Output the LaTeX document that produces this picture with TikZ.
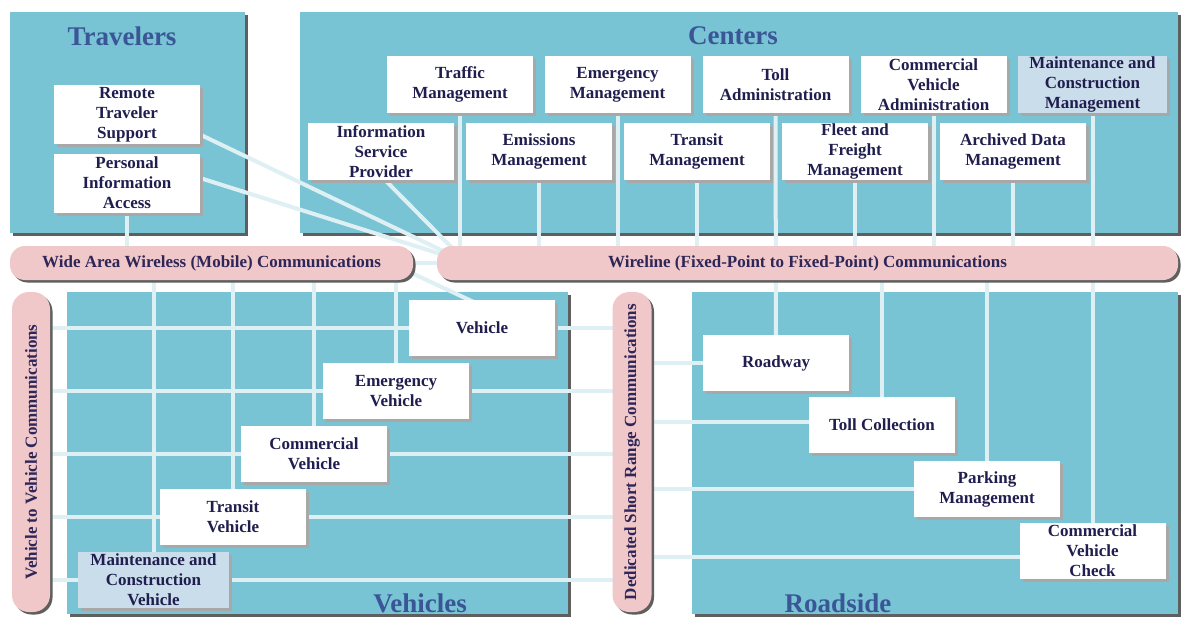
\documentclass[tikz,border=0pt]{standalone}
\usepackage{fontspec}
\setmainfont{Liberation Serif}
\usetikzlibrary{shadows}
\definecolor{panelc}{RGB}{120,196,212}
\definecolor{pillc}{RGB}{241,200,201}
\definecolor{lightbox}{RGB}{202,221,235}
\definecolor{linkc}{RGB}{222,240,243}
\definecolor{ttlc}{RGB}{58,86,150}
\definecolor{txtc}{RGB}{32,30,78}
\definecolor{pilltxt}{RGB}{46,38,88}
\definecolor{psh}{RGB}{95,95,95}
\definecolor{bsh}{RGB}{168,168,168}
\pgfdeclarelayer{bg}
\pgfdeclarelayer{mid}
\pgfsetlayers{bg,mid,main}
\newcommand\boxfont{\fontsize{17}{20}\selectfont\bfseries}
\newcommand\ttlfont{\fontsize{27}{30}\selectfont\bfseries}
\begin{document}
\begin{tikzpicture}[x=1pt,y=-1pt,
  panelbox/.style={fill=panelc,inner sep=0pt,outer sep=0pt,
    drop shadow={shadow xshift=3pt,shadow yshift=-3pt,fill=psh,opacity=1}},
  pillbox/.style={fill=pillc,inner sep=0pt,outer sep=0pt,rounded corners=15pt,
    text=pilltxt,font=\boxfont,
    drop shadow={shadow xshift=2.5pt,shadow yshift=-2.5pt,fill=psh,opacity=1}},
  wbox/.style={fill=white,inner sep=0pt,outer sep=0pt,minimum width=146pt,
    minimum height=57pt,align=center,text=txtc,font=\boxfont,
    drop shadow={shadow xshift=3pt,shadow yshift=-3pt,fill=bsh,opacity=1}},
  lbox/.style={wbox,fill=lightbox},
  ttl/.style={text=ttlc,font=\ttlfont,inner sep=0pt},
  link/.style={draw=linkc,line width=4pt}]
\useasboundingbox (0,0) rectangle (1184,618);

% panels
\begin{pgfonlayer}{bg}
\fill[white] (0,0) rectangle (1184,618);
\node[panelbox,minimum width=235pt,minimum height=221pt] (trav) at (127.5,122.5) {};
\node[panelbox,minimum width=878pt,minimum height=221pt] (cent) at (739,122.5) {};
\node[panelbox,minimum width=501pt,minimum height=322pt] (vehp) at (317.5,453) {};
\node[panelbox,minimum width=486pt,minimum height=322pt] (roadp) at (935,453) {};
\end{pgfonlayer}

% titles
\node[ttl] (ttrav) at (122,36) {Travelers};
\node[ttl] (tcent) at (733,36) {Centers};
\node[ttl] (tveh) at (420,603) {Vehicles};
\node[ttl] (troad) at (838,603) {Roadside};

% communication pills
\node[pillbox,minimum width=403pt,minimum height=34pt] (wide) at (211.5,263)
  {Wide Area Wireless (Mobile) Communications};
\node[pillbox,minimum width=741pt,minimum height=34pt] (wire) at (807.5,263)
  {Wireline (Fixed-Point to Fixed-Point) Communications};
\node[pillbox,minimum width=38pt,minimum height=320pt,rounded corners=17pt] (v2v) at (31,452)
  {\rotatebox{90}{Vehicle to Vehicle Communications}};
\node[pillbox,minimum width=39pt,minimum height=320pt,rounded corners=17pt] (dsrc) at (632,452)
  {\rotatebox{90}{Dedicated Short Range Communications}};

% travelers
\node[wbox,minimum height=59pt] (rts) at (127,114.5) {Remote\\Traveler\\Support};
\node[wbox,minimum height=59pt] (pia) at (127,183) {Personal\\Information\\Access};

% centers
\node[wbox] (traffic) at (460,84.5) {Traffic\\Management};
\node[wbox] (emerg) at (617.5,84.5) {Emergency\\Management};
\node[wbox] (tolladm) at (775.5,84.5) {Toll\\Administration};
\node[wbox] (cva) at (933.5,84.5) {Commercial\\Vehicle\\Administration};
\node[lbox,minimum width=149pt] (mcm) at (1092.5,84.5) {Maintenance and\\Construction\\Management};
\node[wbox] (isp) at (381,151.5) {Information\\Service\\Provider};
\node[wbox] (emis) at (539,151.5) {Emissions\\Management};
\node[wbox] (transitm) at (697,151.5) {Transit\\Management};
\node[wbox] (fleet) at (855,151.5) {Fleet and\\Freight\\Management};
\node[wbox] (archive) at (1013,151.5) {Archived Data\\Management};

% vehicles
\node[wbox,minimum height=56pt] (veh) at (482,328) {Vehicle};
\node[wbox,minimum height=56pt] (ev) at (396,391) {Emergency\\Vehicle};
\node[wbox,minimum height=56pt] (cv) at (314,454) {Commercial\\Vehicle};
\node[wbox,minimum height=56pt] (tv) at (233,516.5) {Transit\\Vehicle};
\node[lbox,minimum width=151pt,minimum height=56pt] (mcv) at (153.5,580) {Maintenance and\\Construction\\Vehicle};

% roadside
\node[wbox,minimum height=56pt] (road) at (776,363) {Roadway};
\node[wbox,minimum height=56pt] (tollc) at (882,425) {Toll Collection};
\node[wbox,minimum height=56pt] (park) at (987,489) {Parking\\Management};
\node[wbox,minimum height=56pt] (cvc) at (1092.5,551) {Commercial\\Vehicle\\Check};

% connectors
\begin{pgfonlayer}{mid}
\coordinate (hub) at (466,262);
\coordinate (wout) at (388,262);
\coordinate (tcin) at ([yshift=3pt]tollc.west);
\coordinate (cvcin) at ([yshift=-6pt]cvc.west);
\draw[link] (pia) -- (pia |- wide);
\draw[link] ([yshift=-20pt]rts.east) -- (hub);
\draw[link] ([yshift=5pt]pia.east) -- (hub);
\draw[link] ([xshift=4pt]isp.south) -- (hub);
\draw[link] (wide) -- (wire);
\draw[link] (wout) -- ([xshift=-4pt,yshift=-4pt]veh.north);
\foreach \n in {traffic,emerg,emis,transitm,cva,fleet,archive}
  \draw[link] (\n) -- (\n |- wire);
\draw[link] (tolladm) -- (road);
\draw[link] (mcm) -- (cvc);
\draw[link] (tollc |- wire) -- (tollc);
\draw[link] (park |- wire) -- (park);
\foreach \n in {mcv,tv,cv,ev}
  \draw[link] (\n |- wide) -- (\n);
\foreach \n in {veh,ev,cv,tv,mcv}
  \draw[link] (v2v |- \n) -- (dsrc |- \n);
\draw[link] (dsrc |- road) -- (road);
\draw[link] (dsrc |- tcin) -- (tcin);
\draw[link] (dsrc |- park) -- (park);
\draw[link] (dsrc |- cvcin) -- (cvcin);
\end{pgfonlayer}
\end{tikzpicture}
\end{document}
